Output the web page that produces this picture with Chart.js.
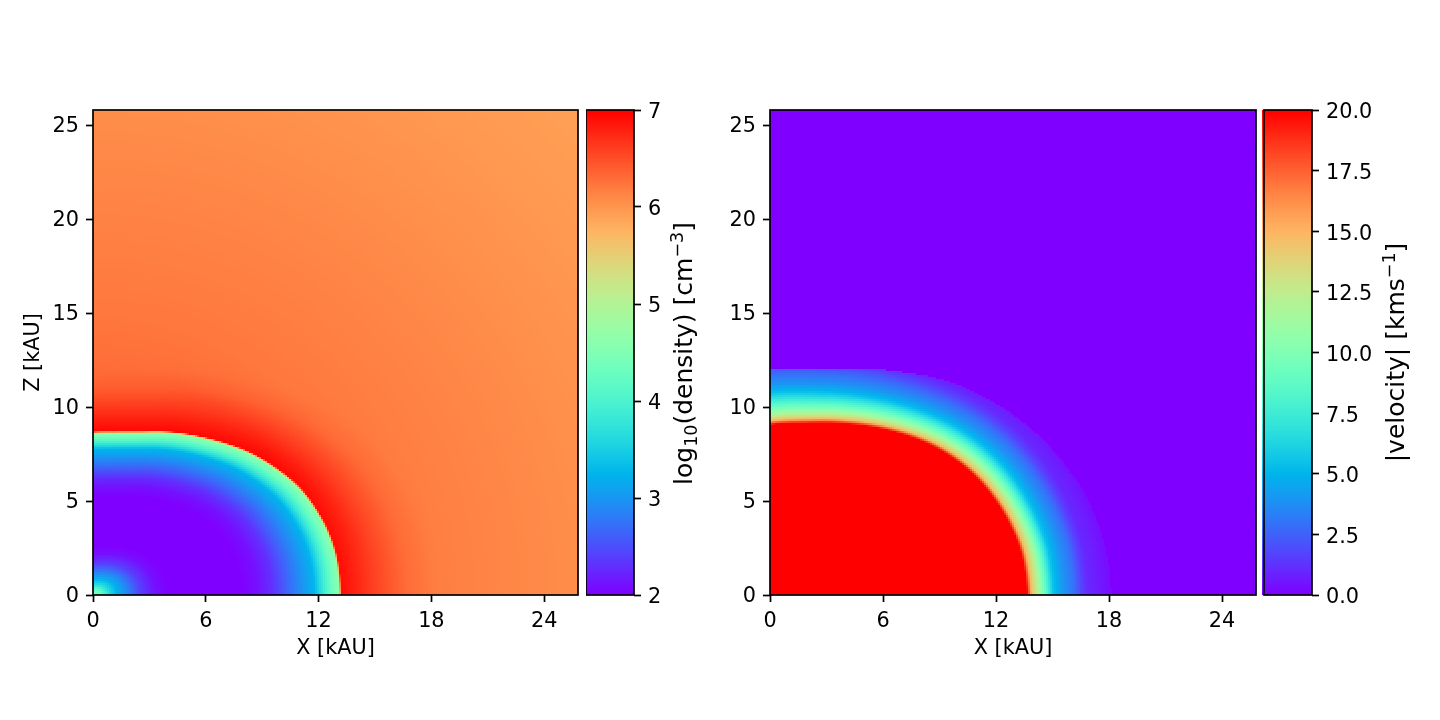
<!DOCTYPE html>
<html>
<head>
<meta charset="utf-8">
<title>Density and velocity maps</title>
<script src="https://cdn.jsdelivr.net/npm/chart.js@4"></script>
<style>
  html, body { margin: 0; background: #fff; }
  #stage { position: relative; width: 1440px; height: 720px; overflow: hidden; }
  canvas { position: absolute; top: 0; }
</style>
</head>
<body>
<div id="stage">
  <canvas id="density" width="580" height="720" style="left:0"></canvas>
  <canvas id="densityBar" width="140" height="720" style="left:586px"></canvas>
  <canvas id="velocity" width="1258" height="720" style="left:0"></canvas>
  <canvas id="velocityBar" width="178" height="720" style="left:1262px"></canvas>
</div>
<script>
// Axis ticks
const xTicks = [0, 6, 12, 18, 24];
const zTicks = [0, 5, 10, 15, 20, 25];
const densityTicks = [2, 3, 4, 5, 6, 7];
const velocityTicks = [0, 2.5, 5, 7.5, 10, 12.5, 15, 17.5, 20];
const extent = 25.8;

// Density: bubble edge radius (kAU) against polar angle (deg from the X axis)
const densityEdgeAngle  = [0, 8.1, 14.6, 21.2, 27.6, 33.8, 42.4, 47.8, 53.3, 58.9, 66.8, 74, 82, 90];
const densityEdgeRadius = [13.22, 13.17, 13.02, 12.75, 12.42, 11.96, 11.3, 10.84, 10.4, 10, 9.49, 9.07, 8.8, 8.69];
// Density inside the bubble against radius / edge radius
const innerFraction = [0, .03, .06, .1, .14, .19, .25, .3, .6, .66, .72, .8, .89, .93, .97, .988, 1];
const innerLogDensity = [4.6, 4.3, 3.7, 3.2, 2.85, 2.4, 2.1, 2, 2, 2.1, 2.3, 2.75, 3.25, 3.9, 4.45, 4.6, 7];
// Ambient gas against radius, plus the swept-up shell against radius / edge radius
const ambientRadius = [12, 15, 18, 20, 25.9, 30, 36.6];
const ambientLogDensity = [6.3, 6.22, 6.18, 6.15, 6.06, 6, 5.92];
const shellFraction = [1, 1.05, 1.14, 1.26, 1.37, 1.45];
const shellExcess = [.65, .55, .35, .11, .01, 0];

// Velocity: red core edge and outer flow edge against polar angle
const coreEdgeAngle  = [0, 9.5, 16, 22.2, 28.2, 34.1, 41.6, 46.9, 53.1, 60.6, 68.3, 78.5, 90];
const coreEdgeRadius = [13.65, 13.51, 13.28, 13, 12.69, 12.33, 11.79, 11.37, 10.87, 10.32, 9.83, 9.33, 9.04];
const flowEdgeAngle  = [0, 4.8, 11.7, 18.6, 24.3, 30.5, 36.4, 41.8, 48.7, 53.4, 58, 63.7, 72, 90];
const flowEdgeRadius = [18.12, 18.07, 17.86, 17.53, 17.1, 16.62, 16.1, 15.6, 14.95, 14.45, 13.93, 13.38, 12.9, 12.6];
const flowTop = 12;
// Speed levels and their distance beyond the core edge, along each axis
const bandSpeed = [20, 15, 12, 9, 5.5, 4, 3, 1.6, 1, .3];
const bandDistanceX = [0, .23, .62, .98, 1.4, 1.95, 2.5, 2.95, 3.25, 4.44];
const bandDistanceZ = [0, .22, .52, .97, 1.69, 2.15, 2.6, 3.3, 3.7, 5];

function lookup(xs, ys, q) {
  if (q <= xs[0]) return ys[0];
  for (let i = 1; i < xs.length; i++) {
    if (q <= xs[i]) return ys[i - 1] + (ys[i] - ys[i - 1]) * (q - xs[i - 1]) / (xs[i] - xs[i - 1]);
  }
  return ys[ys.length - 1];
}

// Catmull-Rom reading of a curve, so the edges stay round between samples
function curve(xs, ys, q) {
  const n = xs.length;
  let i = 1;
  while (i < n - 1 && q > xs[i]) i++;
  const slope = k => {
    const a = Math.max(0, k - 1), b = Math.min(n - 1, k + 1);
    return (ys[b] - ys[a]) / (xs[b] - xs[a]);
  };
  const h = xs[i] - xs[i - 1], t = (q - xs[i - 1]) / h;
  const t2 = t * t, t3 = t2 * t;
  return (2 * t3 - 3 * t2 + 1) * ys[i - 1] + (t3 - 2 * t2 + t) * h * slope(i - 1)
       + (-2 * t3 + 3 * t2) * ys[i] + (t3 - t2) * h * slope(i);
}

// Matplotlib's "rainbow" colour map
function rainbow(t) {
  t = Math.min(1, Math.max(0, t));
  const c = v => Math.round(255 * Math.min(1, Math.max(0, v)));
  return `rgb(${c(Math.abs(2 * t - .5))},${c(Math.sin(Math.PI * t))},${c(Math.cos(Math.PI * t / 2))})`;
}

function densityAt(x, z) {
  const r = Math.hypot(x, z), deg = Math.atan2(z, x) * 180 / Math.PI;
  const s = r / curve(densityEdgeAngle, densityEdgeRadius, deg);
  if (s < 1) return lookup(innerFraction, innerLogDensity, s);
  return lookup(ambientRadius, ambientLogDensity, r) + lookup(shellFraction, shellExcess, s);
}

function velocityAt(x, z) {
  const r = Math.hypot(x, z), deg = Math.atan2(z, x) * 180 / Math.PI;
  if (z > flowTop || r > curve(flowEdgeAngle, flowEdgeRadius, deg)) return 0;
  const d = r - curve(coreEdgeAngle, coreEdgeRadius, deg);
  if (d <= 0) return 20;
  const a = deg / 90;
  const band = bandDistanceX.map((v, i) => v * (1 - a) + bandDistanceZ[i] * a);
  return lookup(band, bandSpeed, d);
}

// Cells two pixels wide, sized from the plot so their edges land on whole pixels
function buildCells(field, lo, hi, plotWidth, plotHeight) {
  const stepX = 2 * extent / plotWidth, stepZ = 2 * extent / plotHeight;
  const cols = Math.ceil(plotWidth / 2), rows = Math.ceil(plotHeight / 2);
  const cells = [], colors = [];
  for (let j = 0; j < rows; j++) {
    for (let i = 0; i < cols; i++) {
      const x = (i + .5) * stepX, z = (j + .5) * stepZ;
      cells.push({ x, y: z });
      colors.push(rainbow((field(x, z) - lo) / (hi - lo)));
    }
  }
  return { cells, colors };
}

const font = { family: '"DejaVu Sans"', size: 20.8 };

// Closes the frame around each plot area; a bar may inset its left rule
const frame = {
  id: 'frame',
  afterDatasetsDraw(chart, args, opts) {
    const a = chart.chartArea, g = chart.ctx, inset = opts.inset || 0;
    g.save();
    g.strokeStyle = '#000';
    g.lineWidth = 1.7;
    g.strokeRect(a.left + inset, a.top, a.right - a.left - inset, a.bottom - a.top);
    g.restore();
  }
};

// Colour bar caption, reading upward, with sub- and superscripts
const caption = {
  id: 'caption',
  afterDraw(chart, args, opts) {
    if (!opts.parts) return;
    const a = chart.chartArea, g = chart.ctx, size = 25;
    g.save();
    g.translate(a.right + opts.offset, (a.top + a.bottom) / 2 + opts.shift);
    g.rotate(-Math.PI / 2);
    g.fillStyle = '#000';
    g.textBaseline = 'alphabetic';
    const fontFor = p => `${p.rise ? size * .7 : size}px "DejaVu Sans"`;
    let w = 0;
    opts.parts.forEach(p => { g.font = fontFor(p); w += g.measureText(p.text).width; });
    let x = -w / 2;
    opts.parts.forEach(p => {
      g.font = fontFor(p);
      g.fillText(p.text, x, 8 - (p.rise || 0));
      x += g.measureText(p.text).width;
    });
    g.restore();
  }
};

function tickAxis(ticks, extra) {
  return Object.assign({
    afterBuildTicks(scale) { scale.ticks = ticks.map(value => ({ value })); },
    border: { display: false },
    grid: { drawOnChartArea: false, drawTicks: true, tickLength: 7, tickWidth: 1.7, tickColor: '#000', offset: false },
    ticks: { font, color: '#000', padding: 7, maxRotation: 0, autoSkip: false, includeBounds: false }
  }, extra);
}

function mapChart(id, field, lo, hi, left, plotWidth, plotHeight, zTitle) {
  const { cells, colors } = buildCells(field, lo, hi, plotWidth, plotHeight);
  return new Chart(document.getElementById(id), {
    type: 'scatter',
    data: { datasets: [{
      data: cells,
      backgroundColor: colors,
      borderWidth: 0,
      pointStyle: 'rect',
      pointRadius: Math.SQRT2,
      pointHoverRadius: Math.SQRT2,
      clip: 0
    }] },
    options: {
      responsive: false,
      animation: false,
      devicePixelRatio: 1,
      events: [],
      layout: { padding: { top: 110, right: 2, left: 0, bottom: 0 } },
      plugins: { legend: { display: false }, tooltip: { enabled: false } },
      scales: {
        x: tickAxis(xTicks, {
          type: 'linear', min: 0, max: extent,
          afterFit(s) { s.height = 125; },
          title: { display: true, text: 'X [kAU]', color: '#000', font, padding: { top: 0, bottom: 59 } }
        }),
        y: tickAxis(zTicks, {
          type: 'linear', min: 0, max: extent,
          afterFit(s) { s.width = left; },
          ticks: { font, color: '#000', padding: 7, autoSkip: false, includeBounds: false, labelOffset: 1.5 },
          title: { display: zTitle, text: 'Z [kAU]', color: '#000', font, padding: { top: 21, bottom: 0 } }
        })
      }
    },
    plugins: [frame]
  });
}

function barChart(id, lo, hi, ticks, label, parts, offset, shift, axisWidth, inset) {
  // One level per pixel row of the colour bar
  const rows = 485, levels = [], colors = [];
  for (let i = 0; i < rows; i++) {
    levels.push({ x: 1, y: lo + (i + .5) * (hi - lo) / rows });
    colors.push(rainbow((i + .5) / rows));
  }
  return new Chart(document.getElementById(id), {
    type: 'bar',
    data: { datasets: [{
      data: levels,
      backgroundColor: colors,
      borderWidth: 0,
      barPercentage: 1,
      categoryPercentage: 1
    }] },
    options: {
      indexAxis: 'y',
      responsive: false,
      animation: false,
      devicePixelRatio: 1,
      events: [],
      layout: { padding: { top: 110, bottom: 125, left: 0, right: 0 } },
      plugins: {
        legend: { display: false }, tooltip: { enabled: false },
        caption: { parts, offset, shift },
        frame: { inset }
      },
      scales: {
        x: { type: 'linear', min: 0, max: 1, display: false },
        y: tickAxis(ticks, {
          type: 'linear', min: lo, max: hi, position: 'right', offset: false,
          afterFit(s) { s.width = axisWidth; },
          ticks: {
            font, color: '#000', padding: 7, autoSkip: false, includeBounds: false, labelOffset: 3,
            callback: label
          }
        })
      }
    },
    plugins: [frame, caption]
  });
}

mapChart('density', densityAt, 2, 7, 93, 485, 485, true);
mapChart('velocity', velocityAt, 0, 20, 770, 486, 485, false);
barChart('densityBar', 2, 7, densityTicks, v => String(v), [
  { text: 'log' }, { text: '10', rise: -5 }, { text: '(density) [cm' }, { text: '\u22123', rise: 9 }, { text: ']' }
], 50, 1, 92, 0);
barChart('velocityBar', 0, 20, velocityTicks, v => v.toFixed(1), [
  { text: '|velocity| [kms' }, { text: '\u22121', rise: 9 }, { text: ']' }
], 84, 0, 128, 2);
</script>
</body>
</html>
